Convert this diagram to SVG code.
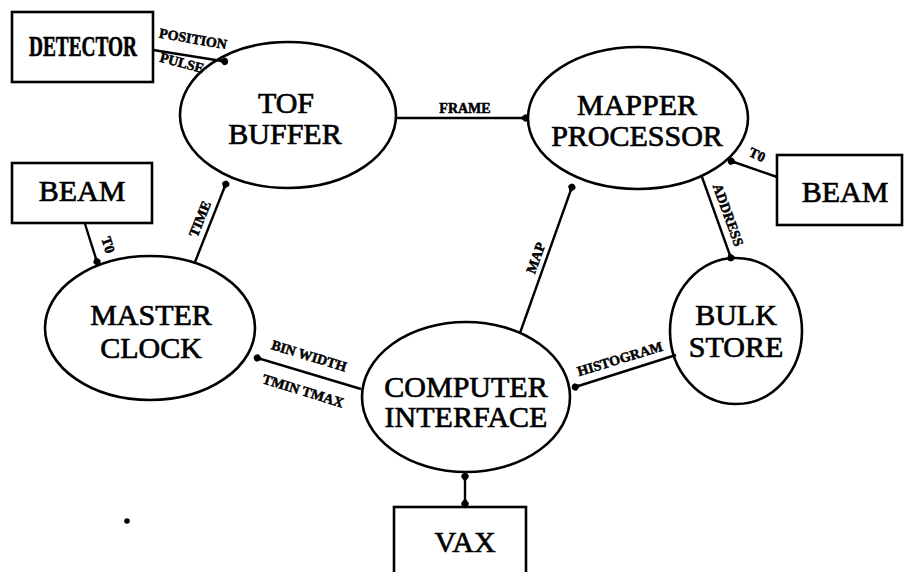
<svg xmlns="http://www.w3.org/2000/svg" width="906" height="572" viewBox="0 0 906 572">
  <style>
    .node { fill: none; stroke: #000; stroke-width: 2.6; }
    .big { font-family: "Liberation Serif", "Times New Roman", serif; font-size: 30px; fill: #000; stroke: #000; stroke-width: 0.7; text-anchor: middle; }
    .small { font-family: "Liberation Serif", "Times New Roman", serif; font-size: 14px; font-weight: bold; fill: #000; stroke: #000; stroke-width: 0.5; text-anchor: middle; dominant-baseline: central; }
    .link { fill: none; stroke: #000; stroke-width: 2.4; }
  </style>
  <defs>
    <marker id="dot" markerUnits="userSpaceOnUse" markerWidth="14" markerHeight="10" viewBox="-10 -5 14 10" refX="0" refY="0" orient="auto">
      <path d="M-9,0 L-4,-3.8 A4,4 0 0 1 0,0 A4,4 0 0 1 -4,3.8 Z" fill="#000"/>
    </marker>
    <marker id="dotStart" markerUnits="userSpaceOnUse" markerWidth="14" markerHeight="10" viewBox="-4 -5 14 10" refX="0" refY="0" orient="auto">
      <path d="M9,0 L4,-3.8 A4,4 0 0 0 0,0 A4,4 0 0 0 4,3.8 Z" fill="#000"/>
    </marker>
  </defs>
  <rect width="906" height="572" fill="#fff"/>

  <!-- connectors and their labels -->
  <g id="connectors">
    <line class="link" x1="153" y1="50" x2="228" y2="62" marker-end="url(#dot)"/>
    <line class="link" x1="195" y1="262" x2="227" y2="181" marker-end="url(#dot)"/>
    <line class="link" x1="85" y1="224" x2="98" y2="265" marker-end="url(#dot)"/>
    <line class="link" x1="396" y1="118" x2="529" y2="118" marker-end="url(#dot)"/>
    <line class="link" x1="777" y1="177" x2="728" y2="160" marker-end="url(#dot)"/>
    <line class="link" x1="702" y1="177" x2="732" y2="261" marker-end="url(#dot)"/>
    <line class="link" x1="520" y1="333" x2="573" y2="184" marker-end="url(#dot)"/>
    <line class="link" x1="361" y1="389" x2="254" y2="357" marker-end="url(#dot)"/>
    <line class="link" x1="676" y1="355" x2="572" y2="388" marker-end="url(#dot)"/>
    <line class="link" x1="465" y1="473" x2="465" y2="507" marker-start="url(#dotStart)" marker-end="url(#dot)"/>

    <text class="small" transform="translate(193,39) rotate(10)">POSITION</text>
    <text class="small" transform="translate(182,63) rotate(15)">PULSE</text>
    <text class="small" transform="translate(200,219) rotate(-68)">TIME</text>
    <text class="small" transform="translate(108,245) rotate(72)">T0</text>
    <text class="small" transform="translate(465,108)">FRAME</text>
    <text class="small" transform="translate(757,155) rotate(25)">T0</text>
    <text class="small" transform="translate(728,215) rotate(70)">ADDRESS</text>
    <text class="small" transform="translate(536,258) rotate(-70)">MAP</text>
    <text class="small" transform="translate(309,356) rotate(17)">BIN WIDTH</text>
    <text class="small" transform="translate(303,391) rotate(17)">TMIN TMAX</text>
    <text class="small" transform="translate(620,359) rotate(-17)">HISTOGRAM</text>
  </g>

  <g id="detector">
    <rect class="node" x="12" y="12" width="141" height="70"/>
    <text class="big" x="83" y="56" font-size="20" font-weight="bold" textLength="108" lengthAdjust="spacingAndGlyphs">DETECTOR</text>
  </g>

  <g id="tof-buffer">
    <ellipse class="node" cx="288" cy="115" rx="108" ry="73"/>
    <text class="big" x="286" y="113">TOF</text>
    <text class="big" x="285" y="144">BUFFER</text>
  </g>

  <g id="mapper-processor">
    <ellipse class="node" cx="638" cy="118" rx="110" ry="71"/>
    <text class="big" x="637" y="115">MAPPER</text>
    <text class="big" x="637" y="146">PROCESSOR</text>
  </g>

  <g id="beam-left">
    <rect class="node" x="12" y="163" width="140" height="60"/>
    <text class="big" x="82" y="201" font-size="27">BEAM</text>
  </g>

  <g id="beam-right">
    <rect class="node" x="777" y="155" width="125" height="70"/>
    <text class="big" x="845" y="202" font-size="27">BEAM</text>
  </g>

  <g id="master-clock">
    <ellipse class="node" cx="150" cy="328" rx="105" ry="72"/>
    <text class="big" x="151" y="325">MASTER</text>
    <text class="big" x="151" y="358">CLOCK</text>
  </g>

  <g id="computer-interface">
    <ellipse class="node" cx="466" cy="397" rx="104" ry="75"/>
    <text class="big" x="466" y="397">COMPUTER</text>
    <text class="big" x="466" y="427">INTERFACE</text>
  </g>

  <g id="bulk-store">
    <ellipse class="node" cx="736" cy="331" rx="66" ry="73"/>
    <text class="big" x="736" y="325">BULK</text>
    <text class="big" x="736" y="357">STORE</text>
  </g>

  <g id="vax">
    <rect class="node" x="394" y="507" width="132" height="70"/>
    <text class="big" x="465" y="552">VAX</text>
  </g>

  <circle cx="127" cy="521" r="2.8" fill="#000"/>
</svg>
